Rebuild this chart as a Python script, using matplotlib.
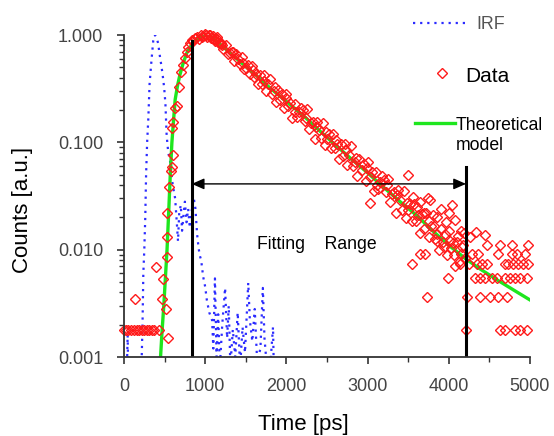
import matplotlib
matplotlib.use("Agg")
import matplotlib.pyplot as plt
from matplotlib.lines import Line2D
from matplotlib.ticker import FixedLocator, FormatStrFormatter, LogLocator, NullFormatter

plt.rcParams['font.family'] = ['Liberation Sans', 'DejaVu Sans']

# instrument response (values below 0.001 fall off the axis)
irf_t = [0, 30, 45, 55, 100, 150, 195, 215, 228, 238, 250, 262, 272, 285, 300, 315, 340, 360,
         380, 400, 420, 440, 460, 477, 495, 510, 525, 545, 566, 600, 630, 650, 665, 680, 700,
         715, 730, 750, 770, 790, 810, 840, 860, 880, 900, 915, 930, 950, 975, 1000, 1020,
         1050, 1085, 1100, 1120, 1140, 1160, 1180, 1210, 1245, 1270, 1290, 1310, 1340, 1370,
         1400, 1430, 1460, 1490, 1530, 1550, 1580, 1610, 1640, 1680, 1710, 1730, 1760, 1800,
         1835, 1850]
irf_y = [0.0005, 0.0005, 0.0016, 0.0005, 0.0005, 0.0005, 0.0005, 0.0008, 0.002, 0.006, 0.010,
         0.02, 0.05, 0.10, 0.17, 0.35, 0.60, 0.88, 1.0, 0.95, 0.84, 0.65, 0.52, 0.42, 0.32,
         0.23, 0.117, 0.08, 0.068, 0.04, 0.03, 0.018, 0.012, 0.022, 0.026, 0.015, 0.02, 0.028,
         0.018, 0.024, 0.016, 0.025, 0.03, 0.024, 0.014, 0.011, 0.009, 0.008, 0.0056, 0.0045,
         0.0034, 0.0026, 0.0022, 0.0012, 0.0054, 0.001, 0.0025, 0.0008, 0.002, 0.0044, 0.0015,
         0.003, 0.0008, 0.0018, 0.001, 0.0026, 0.0008, 0.0019, 0.0011, 0.0049, 0.0022, 0.0014,
         0.0028, 0.0009, 0.0012, 0.0044, 0.0015, 0.0008, 0.0008, 0.0019, 0.0005]

# fitted model
model_t = [450, 470, 490, 510, 530, 550, 570, 590, 610, 630, 660, 690, 730, 780, 850, 920, 1000,
           1050, 1100, 1200, 1400, 1600, 1800, 2000, 2200, 2400, 2600, 2800, 3000, 3200, 3400,
           3600, 3800, 4000, 4200, 4400, 4600, 4800, 5000]
model_y = [0.001, 0.0018, 0.003, 0.0055, 0.01, 0.022, 0.05, 0.1, 0.16, 0.25, 0.34, 0.43, 0.55,
           0.7, 0.85, 0.94, 0.99, 1.0, 0.93, 0.80, 0.59, 0.44, 0.32, 0.24, 0.18, 0.13, 0.095,
           0.070, 0.052, 0.038, 0.028, 0.021, 0.015, 0.011, 0.0083, 0.0065, 0.0052, 0.0042,
           0.0034]

# measured counts: background + rising edge
rise_t = [0, 25, 55, 90, 120, 135, 160, 190, 220, 250, 280, 310, 340, 370, 400, 430,
          464, 477, 517, 525, 530, 535, 546, 555, 580, 590, 600, 595, 605, 630, 650, 680,
          700, 730, 750, 775, 790, 815, 835]
rise_y = [0.0018, 0.0018, 0.0018, 0.0018, 0.0018, 0.0035, 0.0018, 0.0018, 0.0018, 0.0018,
          0.0018, 0.0018, 0.0018, 0.0018, 0.0069, 0.0018,
          0.0035, 0.0053, 0.0028, 0.0086, 0.013, 0.022, 0.0015, 0.038, 0.054, 0.059, 0.076,
          0.135, 0.154, 0.21, 0.22, 0.33, 0.45, 0.52, 0.61, 0.69, 0.77, 0.84, 0.90]

# decay channels
decay_t = [850, 875, 900, 925, 950, 975, 1000, 1025, 1050, 1075, 1100, 1125, 1150, 1175,
           1200, 1225, 1250, 1275, 1300, 1325, 1350, 1375, 1400, 1425, 1450, 1475, 1500, 1525,
           1550, 1575, 1600, 1625, 1650, 1675, 1700, 1725, 1750, 1775, 1800, 1825, 1850, 1875,
           1900, 1925, 1950, 1975, 2000, 2025, 2050, 2075, 2100, 2125, 2150, 2175, 2200, 2225,
           2250, 2275, 2300, 2325, 2350, 2375, 2400, 2425, 2450, 2475, 2500, 2525, 2550, 2575,
           2600, 2625, 2650, 2675, 2700, 2725, 2750, 2775, 2800, 2825, 2850, 2875, 2900, 2925,
           2950, 2975, 3000, 3025, 3050, 3075, 3100, 3125, 3150, 3175, 3200, 3225, 3250, 3275,
           3300, 3325, 3350, 3375, 3400, 3425, 3450, 3475, 3500, 3525, 3550, 3575, 3600, 3625,
           3650, 3675, 3700, 3725, 3750, 3775, 3800, 3825, 3850, 3875, 3900, 3925, 3950, 3975,
           4000, 4025, 4050, 4075, 4100, 4125, 4150, 4175, 4200]
decay_y = [0.88, 0.93, 0.96, 0.92, 1.00, 0.97, 1.02, 0.95, 0.99, 0.93, 0.97, 0.88, 0.91, 0.84,
           0.84, 0.74, 0.81, 0.66, 0.68, 0.70, 0.57, 0.66, 0.60, 0.54, 0.63, 0.48, 0.49, 0.53,
           0.43, 0.51, 0.41, 0.43, 0.35, 0.42,
           0.35, 0.42, 0.30, 0.35, 0.39, 0.28, 0.30, 0.24, 0.31, 0.25, 0.28, 0.21, 0.28, 0.22,
           0.235, 0.17, 0.23, 0.174, 0.192, 0.21,
           0.20, 0.158, 0.203, 0.132, 0.150, 0.156, 0.108, 0.156, 0.131, 0.110, 0.153, 0.095,
           0.108, 0.119, 0.089, 0.119, 0.088, 0.096, 0.070, 0.096,
           0.074, 0.096, 0.062, 0.077, 0.092, 0.060, 0.065, 0.049, 0.070, 0.055, 0.063, 0.044,
           0.065, 0.048, 0.053, 0.035, 0.053, 0.037, 0.043, 0.049,
           0.045, 0.0345, 0.046, 0.0276, 0.033, 0.0344, 0.022, 0.0357, 0.029, 0.0235, 0.0355,
           0.0196, 0.0232, 0.0264, 0.0185, 0.0268, 0.0185, 0.0211, 0.0144, 0.0216,
           0.0156, 0.0218, 0.0130, 0.0167, 0.0210, 0.0125, 0.014, 0.0100, 0.0156, 0.0117,
           0.0140, 0.0090, 0.0150, 0.0103, 0.0116, 0.0071, 0.0119, 0.0077, 0.0092, 0.0111,
           0.0083]

# extra scattered counts in the decay
extra_t = [960, 1010, 1060, 1110, 1140, 1160, 1190, 1210, 1340, 1460, 1590, 1720, 1860, 1990,
           2110, 2240, 2360, 2490, 2610, 2740, 2860, 2990, 3030, 3110, 3240, 3360, 3490, 3500,
           3560, 3610, 3650, 3700, 3745, 3760, 3770, 3820, 3850, 3860, 3900, 3940, 3960, 4000,
           4010, 4035, 4060, 4080, 4110, 4150, 4160, 4190, 4260, 4330, 4445]
extra_y = [0.95, 0.99, 1.01, 0.92, 0.95, 0.86, 0.82, 0.80, 0.70, 0.55, 0.47, 0.37, 0.33, 0.26,
           0.19, 0.17, 0.14, 0.125, 0.105, 0.085, 0.072, 0.058, 0.027, 0.040, 0.040, 0.032,
           0.027, 0.050, 0.031, 0.025, 0.028, 0.022, 0.030, 0.0185, 0.029, 0.0165, 0.020,
           0.012, 0.024, 0.0105, 0.018, 0.022, 0.012, 0.026, 0.009, 0.019, 0.0135, 0.015,
           0.0105, 0.0143, 0.013, 0.0145, 0.0137]

# quantised background tail
tail_t = [4212, 4630, 4692, 4815, 4877, 4963,
          3731, 4224, 4384, 4507, 4606, 4717,
          3990, 4323, 4384, 4446, 4532, 4594, 4692, 4754, 4815, 4877, 4963,
          3547, 4138, 4249, 4347, 4409, 4470, 4692, 4729, 4790, 4852, 4914, 4975,
          3645, 3707, 4286, 4360, 4606, 4778, 4840, 4938,
          4470, 4630, 4778, 4975]
tail_y = [0.0018, 0.0018, 0.0018, 0.0018, 0.0018, 0.0018,
          0.0036, 0.0036, 0.0036, 0.0036, 0.0036, 0.0036,
          0.0055, 0.0055, 0.0055, 0.0055, 0.0055, 0.0055, 0.0055, 0.0055, 0.0055, 0.0055, 0.0055,
          0.0073, 0.0073, 0.0073, 0.0073, 0.0073, 0.0073, 0.0073, 0.0073, 0.0073, 0.0073,
          0.0073, 0.0073,
          0.0091, 0.0091, 0.0091, 0.0091, 0.0091, 0.0091, 0.0091, 0.0091,
          0.011, 0.011, 0.011, 0.011]

fit_start, fit_end = 834, 4212
fit_start_top, fit_end_top = 0.88, 0.059
arrow_y = 0.041

irf_col = '#2b2bff'
green = '#1ee61e'
red = '#ff1a1a'
irf_dash = (0, (1, 2.2))

fig = plt.figure(figsize=(5.54, 4.36), dpi=100)
ax = fig.add_axes([124 / 554, 79 / 436, 406 / 554, 322 / 436])

ax.plot(irf_t, irf_y, color=irf_col, lw=1.6, linestyle=irf_dash)
ax.plot(model_t, model_y, color=green, lw=2.4)
mk = dict(linestyle='none', marker='D', ms=5.3, mfc='none', mec=red, mew=1.0, clip_on=False)
ax.plot(rise_t, rise_y, **mk)
ax.plot(decay_t, decay_y, **mk)
ax.plot(extra_t, extra_y, **mk)
ax.plot(tail_t, tail_y, **mk)

ax.plot([fit_start, fit_start], [0.001, fit_start_top], color='black', lw=2.2)
ax.plot([fit_end, fit_end], [0.001, fit_end_top], color='black', lw=2.2)
ax.annotate('', xy=(fit_end, arrow_y), xytext=(fit_start, arrow_y),
            arrowprops=dict(arrowstyle='<|-|>,head_length=0.5,head_width=0.22',
                            color='black', lw=1, mutation_scale=15, shrinkA=0, shrinkB=0))
ax.text(1640, 0.0101, 'Fitting    Range', fontsize=12.7, color='black', va='baseline')

ax.set_xlim(0, 5000)
ax.set_yscale('log')
ax.set_ylim(0.001, 1)
ax.set_xticks([0, 1000, 2000, 3000, 4000, 5000])
ax.xaxis.set_minor_locator(FixedLocator([500, 1500, 2500, 3500, 4500]))
ax.set_yticks([0.001, 0.01, 0.1, 1])
ax.yaxis.set_major_formatter(FormatStrFormatter('%.3f'))
ax.yaxis.set_minor_locator(LogLocator(base=10, subs=range(2, 10)))
ax.yaxis.set_minor_formatter(NullFormatter())
ax.tick_params(which='major', direction='out', length=5, width=1.2, color='#333333',
               labelcolor='#444444', labelsize=13, pad=10)
ax.tick_params(which='minor', direction='out', length=3.5, width=1.0, color='#333333')
for s in ['top', 'right']:
    ax.spines[s].set_visible(False)
for s in ['left', 'bottom']:
    ax.spines[s].set_color('#333333')
    ax.spines[s].set_linewidth(1.3)

ax.set_xlabel('Time [ps]', fontsize=16)
ax.xaxis.set_label_coords(0.441, -0.177)
ax.set_ylabel('Counts [a.u.]', fontsize=16)
ax.yaxis.set_label_coords(-0.224, 0.456)

# legend drawn in figure coordinates
fig.add_artist(Line2D([413 / 554, 467 / 554], [0.9472, 0.9472], color=irf_col, lw=1.6,
                      linestyle=irf_dash, transform=fig.transFigure))
fig.text(476 / 554, 0.9335, 'IRF', fontsize=12.8, color='#555555', va='baseline')
fig.add_artist(Line2D([442 / 554], [0.8326], marker='D', ms=5.3, mfc='none', mec=red, mew=1.0,
                      linestyle='none', transform=fig.transFigure))
fig.text(465 / 554, 0.812, 'Data', fontsize=15, color='black', va='baseline')
fig.add_artist(Line2D([415 / 554, 455 / 554], [0.7179, 0.7179], color=green, lw=2.4,
                      transform=fig.transFigure))
fig.text(456 / 554, 0.7018, 'Theoretical', fontsize=12.7, color='black', va='baseline')
fig.text(456 / 554, 0.656, 'model', fontsize=12.7, color='black', va='baseline')

fig.savefig('out.png', dpi=100)
